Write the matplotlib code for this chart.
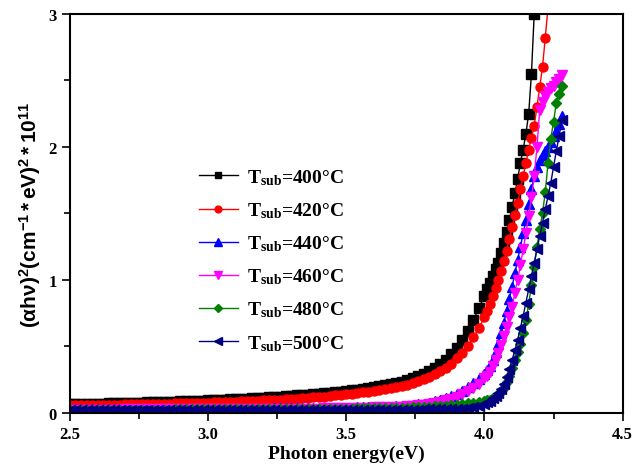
import numpy as np
import matplotlib
matplotlib.use("Agg")
import matplotlib.pyplot as plt
from matplotlib.ticker import MultipleLocator, FormatStrFormatter

plt.rcParams['font.family'] = ['Liberation Serif', 'DejaVu Serif']
plt.rcParams['font.weight'] = 'bold'
plt.rcParams['mathtext.fontset'] = 'custom'
plt.rcParams['mathtext.rm'] = 'Liberation Serif:bold'
plt.rcParams['mathtext.bf'] = 'Liberation Serif:bold'
plt.rcParams['mathtext.it'] = 'Liberation Serif:bold:italic'
plt.rcParams['mathtext.sf'] = 'Liberation Sans:bold'
plt.rcParams['mathtext.default'] = 'rm'

# photon energy grid (eV)
energy = [2.50, 2.52, 2.54, 2.56, 2.58, 2.60, 2.62, 2.64, 2.66, 2.68,
          2.70, 2.72, 2.74, 2.76, 2.78, 2.80, 2.82, 2.84, 2.86, 2.88,
          2.90, 2.92, 2.94, 2.96, 2.98, 3.00, 3.02, 3.04, 3.06, 3.08,
          3.10, 3.12, 3.14, 3.16, 3.18, 3.20, 3.22, 3.24, 3.26, 3.28,
          3.30, 3.32, 3.34, 3.36, 3.38, 3.40, 3.42, 3.44, 3.46, 3.48,
          3.50, 3.52, 3.54, 3.56, 3.58, 3.60, 3.62, 3.64, 3.66, 3.68, 3.70,
          3.72, 3.74, 3.76, 3.78, 3.80, 3.82, 3.84, 3.86, 3.88, 3.90,
          3.92, 3.94, 3.96, 3.98, 4.00,
          4.01, 4.02, 4.03, 4.04, 4.05, 4.06, 4.07, 4.08, 4.09, 4.10,
          4.11, 4.12, 4.13, 4.14, 4.15, 4.16, 4.17, 4.18, 4.19, 4.20,
          4.21, 4.22, 4.23, 4.24, 4.25, 4.26, 4.27, 4.28]

# (alpha h nu)^2 in units of 1e11 (cm^-1 eV)^2
t400 = [.066, .067, .067, .068, .069, .070, .071, .072, .073, .074,
        .075, .076, .078, .079, .080, .081, .082, .084, .085, .086,
        .088, .089, .091, .092, .094, .095, .097, .099, .101, .103,
        .105, .107, .109, .112, .114, .116, .119, .122, .124, .127,
        .130, .133, .136, .139, .143, .146, .150, .154, .157, .161,
        .166, .170, .175, .181, .187, .193, .200, .208, .216, .226, .236,
        .247, .260, .275, .293, .315, .340, .368, .400, .440, .490,
        .550, .620, .700, .790, .880,
        0.93, 0.98, 1.03, 1.08, 1.13, 1.20, 1.28, 1.36, 1.45, 1.55,
        1.65, 1.76, 1.88, 1.98, 2.10, 2.25, 2.55, 3.00]

t420 = [.058, .058, .059, .060, .060, .061, .062, .062, .063, .064,
        .065, .065, .066, .067, .068, .068, .069, .070, .071, .072,
        .073, .074, .075, .077, .078, .079, .080, .082, .083, .085,
        .086, .088, .089, .091, .093, .095, .097, .099, .101, .104,
        .106, .109, .112, .114, .117, .121, .124, .128, .132, .136,
        .140, .145, .150, .155, .160, .166, .172, .179, .186, .194, .202,
        .212, .224, .238, .254, .272, .292, .315, .340, .370, .410,
        .450, .500, .570, .640, .720,
        0.77, 0.82, 0.88, 0.94, 1.00, 1.07, 1.14, 1.22, 1.31, 1.40,
        1.49, 1.58, 1.68, 1.78, 1.88, 1.98, 2.07, 2.16, 2.30, 2.45,
        2.60, 2.82, 3.05]

t440 = [.028, .028, .028, .028, .028, .029, .029, .029, .029, .029,
        .030, .030, .030, .030, .030, .030, .030, .031, .031, .031,
        .031, .031, .031, .032, .032, .032, .032, .032, .033, .033,
        .033, .033, .033, .034, .034, .034, .034, .035, .035, .035,
        .035, .036, .036, .036, .037, .037, .038, .038, .039, .039,
        .040, .041, .042, .043, .044, .045, .046, .047, .049, .051, .053,
        .056, .060, .065, .071, .078, .087, .098, .111, .127, .146,
        .168, .193, .222, .255, .295,
        0.32, 0.35, 0.40, 0.46, 0.52, 0.60, 0.68, 0.77, 0.86, 0.95,
        1.05, 1.15, 1.25, 1.35, 1.45, 1.57, 1.68, 1.78, 1.85, 1.90,
        1.94, 1.97, 2.00, 2.04, 2.08, 2.12, 2.17, 2.23]

t460 = [.025, .025, .025, .025, .025, .026, .026, .026, .026, .026,
        .027, .027, .027, .027, .027, .027, .027, .028, .028, .028,
        .028, .028, .028, .029, .029, .029, .029, .029, .030, .030,
        .030, .030, .030, .031, .031, .031, .031, .032, .032, .032,
        .032, .033, .033, .033, .034, .034, .035, .035, .036, .036,
        .037, .038, .039, .040, .041, .042, .043, .044, .045, .046, .048,
        .050, .053, .057, .062, .068, .075, .084, .095, .108, .124,
        .143, .165, .190, .220, .260,
        0.28, 0.31, 0.35, 0.40, 0.45, 0.51, 0.58, 0.65, 0.72, 0.80,
        0.90, 1.00, 1.11, 1.23, 1.35, 1.48, 1.62, 1.78, 2.00, 2.28,
        2.34, 2.38, 2.41, 2.44, 2.46, 2.49, 2.51, 2.54]

t480 = [.024, .024, .024, .024, .024, .025, .025, .025, .025, .025,
        .025, .025, .026, .026, .026, .026, .026, .026, .026, .027,
        .027, .027, .027, .027, .027, .028, .028, .028, .028, .028,
        .029, .029, .029, .029, .029, .030, .030, .030, .030, .031,
        .031, .031, .031, .032, .032, .032, .033, .033, .033, .034,
        .034, .034, .035, .035, .036, .036, .037, .037, .038, .039, .040,
        .041, .042, .044, .046, .048, .050, .053, .056, .059, .063,
        .067, .072, .077, .083, .090,
        0.095, 0.10, 0.11, 0.12, 0.14, 0.16, 0.19, 0.23, 0.28, 0.34,
        0.40, 0.46, 0.52, 0.60, 0.70, 0.82, 0.96, 1.10, 1.25, 1.38,
        1.50, 1.66, 1.88, 2.06, 2.19, 2.33, 2.40, 2.46]

t500 = [.022, .022, .022, .022, .022, .022, .022, .022, .022, .022,
        .022, .022, .022, .023, .023, .023, .023, .023, .023, .023,
        .023, .023, .023, .023, .023, .024, .024, .024, .024, .024,
        .024, .024, .024, .024, .024, .024, .024, .024, .025, .025,
        .025, .025, .025, .025, .025, .025, .025, .025, .025, .025,
        .026, .026, .026, .026, .026, .026, .026, .026, .026, .026, .026,
        .026, .026, .026, .027, .027, .027, .028, .028, .029, .031,
        .034, .039, .046, .055, .068,
        0.08, 0.09, 0.11, 0.13, 0.15, 0.18, 0.22, 0.27, 0.33, 0.40,
        0.47, 0.55, 0.64, 0.73, 0.83, 0.93, 1.03, 1.13, 1.23, 1.33,
        1.43, 1.53, 1.63, 1.73, 1.85, 1.97, 2.08, 2.20]

temps = [400, 420, 440, 460, 480, 500]
series = [t400, t420, t440, t460, t480, t500]
colors = ['black', 'red', 'blue', 'magenta', 'green', 'navy']
markers = ['s', 'o', '^', 'v', 'D', '<']
msizes = [6.5, 6.5, 7, 7, 5.5, 7]

fig = plt.figure(figsize=(6.36, 4.77), dpi=100)
ax = fig.add_axes([0.110, 0.132, 0.869, 0.837])

for T, y, c, m, ms in zip(temps, series, colors, markers, msizes):
    x = energy[:len(y)]
    ax.plot(x, y, color=c, lw=1, marker=m, ms=ms, mec=c, mfc=c,
            label=r'T$_{sub}$=%d°C' % T)

ax.set_xlim(2.5, 4.5)
ax.set_ylim(0, 3)
ax.xaxis.set_major_locator(MultipleLocator(0.5))
ax.xaxis.set_minor_locator(MultipleLocator(0.25))
ax.yaxis.set_major_locator(MultipleLocator(1))
ax.yaxis.set_minor_locator(MultipleLocator(0.5))
ax.xaxis.set_major_formatter(FormatStrFormatter('%.1f'))
ax.tick_params(which='both', direction='out', top=False, right=False,
               width=1.2, labelsize=12)
ax.tick_params(which='major', length=6)
ax.tick_params(which='minor', length=4)
for s in ax.spines.values():
    s.set_linewidth(1.5)

ax.set_xlabel('Photon energy(eV)', fontsize=14, fontweight='bold', labelpad=2)
ax.set_ylabel(r'$\mathsf{(αhν)^2(cm^{-1}*eV)^2*10^{11}}$', fontsize=15,
              labelpad=4)

ax.legend(loc='upper left', bbox_to_anchor=(0.285, 0.684),
          bbox_transform=fig.transFigure, frameon=False, fontsize=14,
          markerscale=0.75, handlelength=2.0, labelspacing=0.69,
          handletextpad=0.5)

fig.savefig('out.png', dpi=100)
